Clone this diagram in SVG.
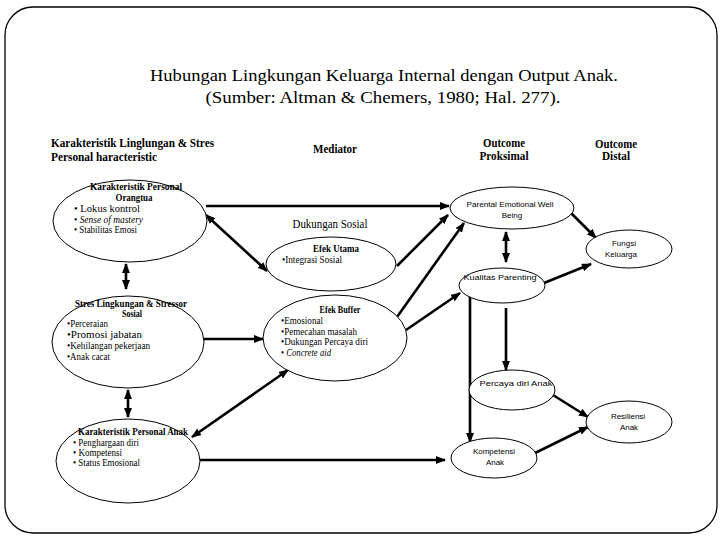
<svg xmlns="http://www.w3.org/2000/svg" width="720" height="540" viewBox="0 0 720 540">
<style>
.bg{fill:#fff}
.frame{fill:none;stroke:#000;stroke-width:1.3}
.node ellipse{fill:#fff;stroke:#000;stroke-width:1}
.t{font-family:"Liberation Serif","Times New Roman",serif;fill:#000}
.title{font-size:17.5px}
.hd{font-size:11.5px;font-weight:bold}
.b{font-size:10px;font-weight:bold}
.r{font-size:10px}
.i{font-style:italic}
.s{font-family:"Liberation Sans",Arial,sans-serif;font-size:8px;fill:#000}
.c{stroke:#000;stroke-width:2.6;fill:none}
</style>
<defs>
<marker id="ah" viewBox="0 0 10 8" refX="9" refY="4" markerWidth="10" markerHeight="8" markerUnits="userSpaceOnUse" orient="auto-start-reverse">
<path d="M0,0 L10,4 L0,8 Z" fill="#000"/>
</marker>
</defs>
<rect class="bg" x="0" y="0" width="720" height="540"/>
<rect class="frame" x="5" y="7" width="712" height="526" rx="28" ry="28"/>

<g id="title">
<text class="t title" x="384" y="81" text-anchor="middle" textLength="468" lengthAdjust="spacingAndGlyphs">Hubungan Lingkungan Keluarga Internal dengan Output Anak.</text>
<text class="t title" x="383" y="103" text-anchor="middle" textLength="355" lengthAdjust="spacingAndGlyphs">(Sumber: Altman &amp; Chemers, 1980;  Hal. 277).</text>
</g>

<g id="headers">
<text class="t hd" x="51" y="147" textLength="163" lengthAdjust="spacingAndGlyphs">Karakteristik Linglungan &amp;  Stres</text>
<text class="t hd" x="51" y="161" textLength="106" lengthAdjust="spacingAndGlyphs">Personal haracteristic</text>
<text class="t hd" x="335" y="153" text-anchor="middle" textLength="44" lengthAdjust="spacingAndGlyphs">Mediator</text>
<text class="t hd" x="504" y="147" text-anchor="middle" textLength="42" lengthAdjust="spacingAndGlyphs">Outcome</text>
<text class="t hd" x="504" y="160" text-anchor="middle" textLength="49" lengthAdjust="spacingAndGlyphs">Proksimal</text>
<text class="t hd" x="616" y="148" text-anchor="middle" textLength="42" lengthAdjust="spacingAndGlyphs">Outcome</text>
<text class="t hd" x="616" y="160" text-anchor="middle" textLength="28" lengthAdjust="spacingAndGlyphs">Distal</text>
<text class="t" x="330" y="228" text-anchor="middle" font-size="12.5" textLength="75" lengthAdjust="spacingAndGlyphs">Dukungan Sosial</text>
</g>

<g id="connectors">
<line class="c" x1="206" y1="206" x2="449" y2="206" marker-end="url(#ah)"/>
<line class="c" x1="206" y1="215" x2="267" y2="271" marker-start="url(#ah)" marker-end="url(#ah)"/>
<line class="c" x1="126" y1="264" x2="126" y2="289" marker-start="url(#ah)" marker-end="url(#ah)"/>
<line class="c" x1="128" y1="390" x2="128" y2="417" marker-start="url(#ah)" marker-end="url(#ah)"/>
<line class="c" x1="203" y1="339" x2="263" y2="339" marker-end="url(#ah)"/>
<line class="c" x1="192" y1="437" x2="288" y2="370" marker-start="url(#ah)" marker-end="url(#ah)"/>
<line class="c" x1="199" y1="460" x2="445" y2="460" marker-end="url(#ah)"/>
<line class="c" x1="397" y1="266" x2="448" y2="215" marker-end="url(#ah)"/>
<line class="c" x1="397" y1="317" x2="464" y2="223" marker-end="url(#ah)"/>
<line class="c" x1="406" y1="330" x2="460" y2="293" marker-end="url(#ah)"/>
<line class="c" x1="570" y1="212" x2="596" y2="238" marker-end="url(#ah)"/>
<line class="c" x1="544" y1="283" x2="591" y2="264" marker-end="url(#ah)"/>
<line class="c" x1="506" y1="232" x2="506" y2="262" marker-start="url(#ah)" marker-end="url(#ah)"/>
<line class="c" x1="506" y1="308" x2="506" y2="370" marker-end="url(#ah)"/>
<line class="c" x1="470" y1="295" x2="470" y2="442" marker-end="url(#ah)"/>
<line class="c" x1="553" y1="395" x2="588" y2="417" marker-end="url(#ah)"/>
<line class="c" x1="535" y1="453" x2="588" y2="427" marker-end="url(#ah)"/>
</g>

<g id="n-orangtua" class="node">
<ellipse cx="130" cy="221" rx="77" ry="41"/>
<text class="t b" x="136" y="190" text-anchor="middle" textLength="92" lengthAdjust="spacingAndGlyphs">Karakteristik  Personal</text>
<text class="t b" x="134" y="201" text-anchor="middle" textLength="37" lengthAdjust="spacingAndGlyphs">Orangtua</text>
<text class="t r" x="74" y="212" textLength="66" lengthAdjust="spacingAndGlyphs">• Lokus kontrol</text>
<text class="t r" x="74" y="223" textLength="69" lengthAdjust="spacingAndGlyphs">• <tspan class="i">Sense of mastery</tspan></text>
<text class="t r" x="74" y="233" textLength="63" lengthAdjust="spacingAndGlyphs">• Stabilitas Emosi</text>
</g>

<g id="n-stres" class="node">
<ellipse cx="128" cy="342" rx="76" ry="46"/>
<text class="t b" x="131" y="307" text-anchor="middle" textLength="112" lengthAdjust="spacingAndGlyphs">Stres Lingkungan &amp;  Stressor</text>
<text class="t b" x="132" y="317" text-anchor="middle" textLength="20" lengthAdjust="spacingAndGlyphs">Sosial</text>
<text class="t r" x="67" y="327" textLength="41" lengthAdjust="spacingAndGlyphs">•Perceraian</text>
<text class="t r" x="67" y="338" textLength="75" lengthAdjust="spacingAndGlyphs">•Promosi jabatan</text>
<text class="t r" x="67" y="349" textLength="83" lengthAdjust="spacingAndGlyphs">•Kehilangan pekerjaan</text>
<text class="t r" x="67" y="360" textLength="43" lengthAdjust="spacingAndGlyphs">•Anak cacat</text>
</g>

<g id="n-anak" class="node">
<ellipse cx="128" cy="461" rx="72" ry="42"/>
<text class="t b" x="133" y="435" text-anchor="middle" textLength="110" lengthAdjust="spacingAndGlyphs">Karakteristik Personal Anak</text>
<text class="t r" x="73" y="446" textLength="66" lengthAdjust="spacingAndGlyphs">• Penghargaan diri</text>
<text class="t r" x="73" y="456" textLength="49" lengthAdjust="spacingAndGlyphs">• Kompetensi</text>
<text class="t r" x="73" y="466" textLength="67" lengthAdjust="spacingAndGlyphs">• Status Emosional</text>
</g>

<g id="n-utama" class="node">
<ellipse cx="331" cy="264" rx="65" ry="27"/>
<text class="t b" x="336" y="252" text-anchor="middle" textLength="46" lengthAdjust="spacingAndGlyphs">Efek Utama</text>
<text class="t r" x="282" y="263" textLength="60" lengthAdjust="spacingAndGlyphs">•Integrasi Sosial</text>
</g>

<g id="n-buffer" class="node">
<ellipse cx="335" cy="338" rx="72" ry="43"/>
<text class="t b" x="340" y="313" text-anchor="middle" textLength="41" lengthAdjust="spacingAndGlyphs">Efek Buffer</text>
<text class="t r" x="281" y="324" textLength="42" lengthAdjust="spacingAndGlyphs">•Emosional</text>
<text class="t r" x="281" y="335" textLength="76" lengthAdjust="spacingAndGlyphs">•Pemecahan masalah</text>
<text class="t r" x="281" y="345" textLength="87" lengthAdjust="spacingAndGlyphs">•Dukungan Percaya diri</text>
<text class="t r" x="281" y="356" textLength="50" lengthAdjust="spacingAndGlyphs">• <tspan class="i">Concrete aid</tspan></text>
</g>

<g id="n-parental" class="node">
<ellipse cx="512" cy="208" rx="62" ry="21"/>
<text class="s" x="510" y="207" text-anchor="middle" textLength="87" lengthAdjust="spacingAndGlyphs">Parental Emotional Well</text>
<text class="s" x="512" y="218" text-anchor="middle">Being</text>
</g>

<g id="n-fungsi" class="node">
<ellipse cx="629" cy="249" rx="43" ry="19"/>
<text class="s" x="624" y="246" text-anchor="middle">Fungsi</text>
<text class="s" x="621" y="257" text-anchor="middle">Keluarga</text>
</g>

<g id="n-kualitas" class="node">
<ellipse cx="502" cy="285.5" rx="43" ry="17.5"/>
<text class="s" x="500" y="280" text-anchor="middle" textLength="73" lengthAdjust="spacingAndGlyphs">Kualitas Parenting</text>
</g>

<g id="n-percaya" class="node">
<ellipse cx="512" cy="390" rx="43" ry="20"/>
<text class="s" x="516" y="386" text-anchor="middle" textLength="73" lengthAdjust="spacingAndGlyphs">Percaya diri Anak</text>
</g>

<g id="n-resiliensi" class="node">
<ellipse cx="629" cy="422" rx="43" ry="21"/>
<text class="s" x="628" y="419" text-anchor="middle">Resiliensi</text>
<text class="s" x="629" y="430" text-anchor="middle">Anak</text>
</g>

<g id="n-kompetensi" class="node">
<ellipse cx="494" cy="458" rx="43" ry="20"/>
<text class="s" x="494" y="454" text-anchor="middle">Kompetensi</text>
<text class="s" x="495" y="465" text-anchor="middle">Anak</text>
</g>
</svg>
